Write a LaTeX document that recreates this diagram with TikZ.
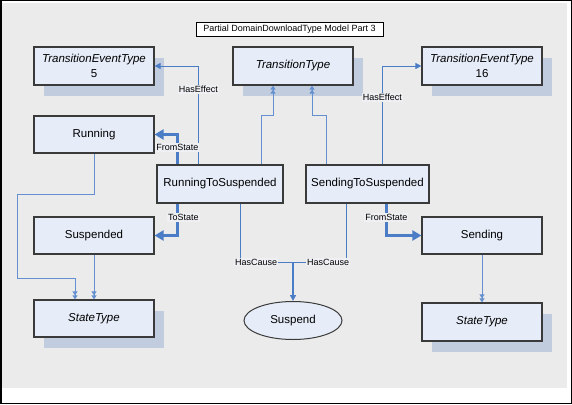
\documentclass[tikz,border=0pt]{standalone}
\usepackage{fontspec}
\setmainfont{Liberation Sans}
\usepackage{tikz}
\usetikzlibrary{arrows.meta,positioning,shapes.geometric,shadows}
\definecolor{linkblue}{HTML}{4A7DC6}
\definecolor{boxfill}{HTML}{E6ECF8}
\definecolor{boxedge}{HTML}{3A3A3A}
\definecolor{shadowblue}{HTML}{C2CCDF}
\definecolor{canvasgray}{HTML}{EBEBEB}
\definecolor{labelbg}{HTML}{EEF0F4}

\begin{document}
\begin{tikzpicture}[x=1pt,y=-1pt,
  cls/.style={draw=boxedge,line width=1.2pt,fill=boxfill,minimum width=120pt,minimum height=38pt,inner sep=2pt,align=center,font=\fontsize{11.5}{15}\selectfont},
  shad/.style={drop shadow={shadow xshift=10pt,shadow yshift=-11pt,fill=shadowblue,opacity=1}},
  lbl/.style={fill=labelbg,inner sep=1pt,font=\fontsize{9}{10}\selectfont},
  assoc/.style={draw=linkblue,line width=0.9pt,-{Triangle[length=6pt,width=6pt]}},
  inh/.style={draw=linkblue!85,line width=0.9pt,-{Triangle[length=4pt,width=5pt]Triangle[length=4pt,width=5pt]}},
  statelink/.style={draw=linkblue,line width=2.4pt,-{Triangle[length=9pt,width=10pt]}},
  causelink/.style={draw=linkblue,line width=1.5pt,-{Triangle[length=6pt,width=6pt]}}]
\useasboundingbox (0,0) rectangle (572,404);
\fill[white] (0,0) rectangle (572,404);
\fill[canvasgray] (2,3) rectangle (567,388);
\draw[black,line width=1.5pt] (0.75,0.75) rectangle (571.25,403.25);
\node[draw,line width=0.8pt,fill=white,minimum width=187pt,minimum height=14pt,inner sep=1pt,font=\fontsize{9}{10}\selectfont] (title) at (289.5,29) {Partial DomainDownloadType Model Part 3};

\node[cls,shad] (tet5) at (94,66) {\textit{TransitionEventType}\\5};
\node[cls,shad] (tt) at (293,66) {\textit{TransitionType}};
\node[cls,shad] (tet16) at (482,66) {\textit{TransitionEventType}\\16};
\node[cls,minimum height=37pt] (running) at (94,134.5) {Running};
\node[cls,minimum width=126pt] (rts) at (220,184) {RunningToSuspended};
\node[cls,minimum width=123pt] (sts) at (367.5,184) {SendingToSuspended};
\node[cls,minimum height=37pt] (suspended) at (94,235.5) {Suspended};
\node[cls,minimum height=37pt] (sending) at (482,235.5) {Sending};
\node[cls,shad,minimum height=37pt] (st1) at (94,318.5) {\textit{StateType}};
\node[cls,shad] (st2) at (482,322) {\textit{StateType}};
\node[ellipse,draw=boxedge,line width=1pt,fill=boxfill,minimum width=98pt,minimum height=38pt,inner sep=0pt,font=\fontsize{11.5}{14}\selectfont] (suspend) at (293,320.5) {Suspend};
\coordinate (cause) at (suspend.north |- 0,262);

\draw[assoc] ([xshift=42pt]rts.north west) |- node[lbl,pos=0.38]{HasEffect} (tet5.east);
\draw[statelink] ([xshift=21pt]rts.north west) |- node[lbl,pos=0.28]{FromState} (running.east);
\draw[inh] ([xshift=105pt]rts.north west) -- ++(0,-49) -| ([xshift=-20pt]tt.south);
\draw[inh] ([xshift=21pt]sts.north west) -- ++(0,-49) -| ([xshift=19pt]tt.south);
\draw[assoc] ([xshift=77pt]sts.north west) |- node[lbl,pos=0.34]{HasEffect} (tet16.west);
\draw[statelink] ([xshift=21pt]rts.south west) |- node[lbl,pos=0.22,xshift=6pt]{ToState} (suspended.east);
\draw[statelink] ([xshift=81pt]sts.south west) |- node[lbl,pos=0.22]{FromState} (sending.west);
\draw[draw=linkblue,line width=0.9pt] ([xshift=84pt]rts.south west) |- node[lbl,pos=0.65]{HasCause} (cause);
\draw[draw=linkblue,line width=0.9pt] ([xshift=41pt]sts.south west) |- node[lbl,pos=0.67]{HasCause} (cause);
\draw[causelink] (cause) -- (suspend);
\draw[inh] (running.south) -- ++(0,41) -| ++(-77,84) -| ([xshift=-19pt]st1.north);
\draw[inh] (suspended) -- (st1);
\draw[inh] (sending) -- (st2);
\end{tikzpicture}
\end{document}
